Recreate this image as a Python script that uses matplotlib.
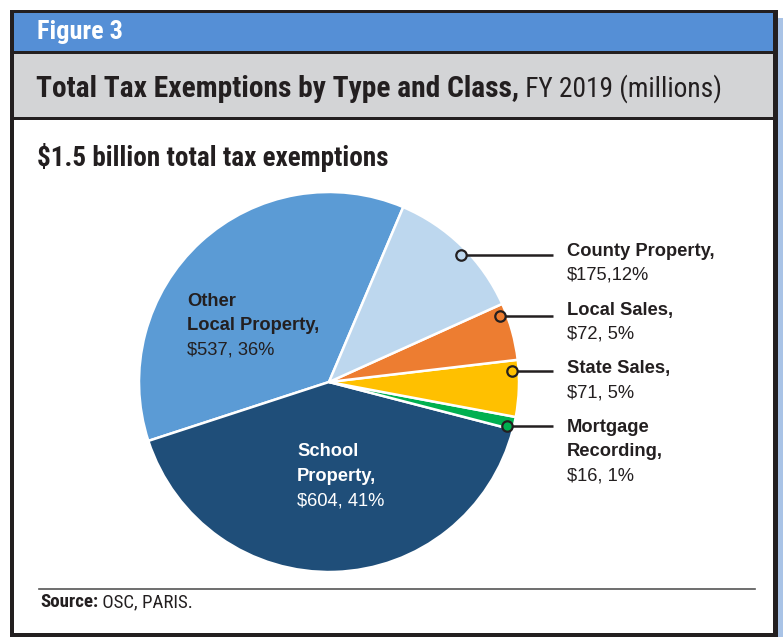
import matplotlib
matplotlib.use('Agg')
import matplotlib.pyplot as plt
from matplotlib import font_manager
from matplotlib.patches import Rectangle
import numpy as np

# Tax exemption totals, FY 2019 ($ millions), in pie order (counterclockwise)
categories = ['Other\nLocal Property,', 'School\nProperty,', 'Mortgage\nRecording,',
              'State Sales,', 'Local Sales,', 'County Property,']
values = [537, 604, 16, 71, 72, 175]
shares = [36, 41, 1, 5, 5, 12]
colors = ['#5B9BD5', '#1F4E79', '#00B050', '#FFC000', '#ED7D31', '#BDD7EE']
separators = [', ', ', ', ', ', ', ', ', ', ',']

title_bold = 'Total Tax Exemptions by Type and Class,'
title_rest = ' FY 2019 (millions)'
subtitle = '$1.5 billion total tax exemptions'

installed = {f.name for f in font_manager.fontManager.ttflist}
NARROW = next((f for f in ['Roboto Condensed', 'Liberation Sans Narrow', 'Arial Narrow']
               if f in installed), 'Liberation Sans')
SANS = 'Liberation Sans'
INK = '#231F20'

W, H = 783, 637
fig = plt.figure(figsize=(W / 100, H / 100), dpi=100)

# pixel-space canvas for the frame and headings
ax = fig.add_axes([0, 0, 1, 1], zorder=0)
ax.set_xlim(0, W)
ax.set_ylim(H, 0)
ax.axis('off')

ax.add_patch(Rectangle((777, 18), 6, H - 18, color='#A9C3E6', lw=0))
ax.add_patch(Rectangle((10, 10), 768, 627, color=INK, lw=0))
ax.add_patch(Rectangle((14, 13), 759, 38, color='#558FD6', lw=0))
ax.add_patch(Rectangle((14, 54), 759, 63, color='#D3D4D6', lw=0))
ax.add_patch(Rectangle((14, 120), 759, 513, color='white', lw=0))

fig_lbl = ax.text(37, 39, 'Figure 3', color='white', fontsize=15, fontweight='bold',
                  family=NARROW, va='baseline', ha='left')
t1 = ax.text(36, 97, title_bold, color=INK, fontsize=21, fontweight='bold',
             family=NARROW, va='baseline', ha='left')
t2 = ax.annotate(title_rest, xy=(1, 0), xycoords=t1, va='bottom', ha='left',
                 color=INK, fontsize=21, family=NARROW)
sub = ax.text(37, 166, subtitle, color=INK, fontsize=18, fontweight='bold',
              family=NARROW, va='baseline', ha='left')

ax.plot([39, 755], [589, 589], color='#555555', lw=1.2)
s1 = ax.text(40, 607, 'Source:', color=INK, fontsize=10.5, fontweight='bold',
             family=NARROW, va='baseline', ha='left')
s2 = ax.annotate(' OSC, PARIS.', xy=(1, 0), xycoords=s1, va='bottom', ha='left',
                 color=INK, fontsize=10.5, family=NARROW)

# size the condensed headings to their set widths (px)
fig.canvas.draw()
rend = fig.canvas.get_renderer()
for txt, width in [(fig_lbl, 86), (t1, 484), (sub, 350), (s1, 58)]:
    w = txt.get_window_extent(rend).width
    txt.set_fontsize(txt.get_fontsize() * width / w)
s2.set_fontsize(s1.get_fontsize())
fig.canvas.draw()
w = t2.get_window_extent(rend).width
t2.set_fontsize(min(t1.get_fontsize(), t2.get_fontsize() * 203 / w))

# pie, centred at (329, 382) px with a 190 px radius
cx, cy, r = 329, 382, 190
pax = fig.add_axes([(cx - r) / W, (H - cy - r) / H, 2 * r / W, 2 * r / H], zorder=1)
pax.pie(values, colors=colors, startangle=67, counterclock=True,
        wedgeprops=dict(edgecolor='white', linewidth=1.8))
pax.set_xlim(-1, 1)
pax.set_ylim(-1, 1)
pax.set_aspect('equal')
pax.axis('off')

value_text = [f'${v}{sep}{s}%' for v, s, sep in zip(values, shares, separators)]
LFS = 13.2

# callouts for the small slices on the right
leader_y = {5: 0.67, 4: 0.35, 3: 0.06, 2: -0.23}
label_top = {5: 251, 4: 310, 3: 369, 2: 428}
for i, ly in leader_y.items():
    lx = np.sqrt(0.965 ** 2 - ly ** 2)
    pax.plot([lx, 1.18], [ly, ly], color=INK, lw=1.8, clip_on=False,
             solid_capstyle='butt', zorder=3)
    pax.plot(lx, ly, 'o', ms=7.5, mfc=colors[i], mec=INK, mew=1.6,
             clip_on=False, zorder=4)
    y = label_top[i]
    for ln in categories[i].split('\n'):
        fig.text(567, y, ln, transform=ax.transData, fontsize=LFS, fontweight='bold',
                 family=SANS, color=INK, va='center', ha='left')
        y += 24
    fig.text(567, y, value_text[i], transform=ax.transData, fontsize=LFS,
             family=SANS, color=INK, va='center', ha='left')

# labels inside the two large slices
inside = {0: (187, 301, INK), 1: (297, 452, 'white')}
for i, (x, y, c) in inside.items():
    for ln in categories[i].split('\n'):
        fig.text(x, y, ln, transform=ax.transData, fontsize=LFS, fontweight='bold',
                 family=SANS, color=c, va='center', ha='left')
        y += 24.5
    fig.text(x, y, value_text[i], transform=ax.transData, fontsize=LFS,
             family=SANS, color=c, va='center', ha='left')

fig.savefig('out.png', dpi=100)
